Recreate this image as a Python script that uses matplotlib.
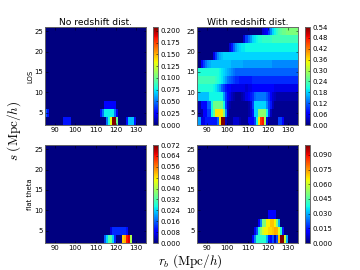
"""
plot.py

Correlation grids in s and r_b, with and without redshift distortion.
"""

import numpy as np
from matplotlib import pyplot as plt

plt.rcParams["mathtext.fontset"] = "cm"
plt.rcParams["font.size"] = 11
plt.rcParams["xtick.direction"] = "in"
plt.rcParams["ytick.direction"] = "in"
plt.rcParams["axes.linewidth"] = 1.5
plt.rcParams["axes.edgecolor"] = "0.4"

rb_edges = np.arange(85, 136, 1)
s_edges = np.arange(2, 27, 2)

# No redshift dist, LOS: (first rb column, values) per s bin from the bottom
los_nz_s2 = (9, [.03, .03, .03, .03, 0, 0, 0, 0, 0, 0, 0, 0, 0, 0, 0, 0, 0, 0, 0, 0, 0,
                 .05, .08, .13, .208, .208, .1, 0, 0, 0, 0, .03, .065, .065, .065, .03])
los_nz_s4 = (0, [.045, .03] + [0] * 25 + [.03, .05, .075, .075, .075, .075, .075, .05, .02])
los_nz_s6 = (29, [.025, .025, .025, .025, .025, .025])

# No redshift dist, flat theta
flat_nz_s2 = (29, [.016, .024, .032, .032, .024, .012, .001, .001, .001, .05, .052, .064, .066, .04])
flat_nz_s4 = (32, [.006, .012, .012, .012, .012, .012, .012, .012, .01])

# With redshift dist, LOS: full rows from the bottom
los_z_s2 = [.15, .15, .05, .05, .08, .08, .08, .08, .08, .08, .12, .36, .54, .54, .03, .01, .01, .01, .04, .04,
            .04, .02, .01, .01, .01, .06, .06, .06, .1, .2, .36, .46, .48, .3, .05, .01, .01, .01, .01, .01,
            .1, .1, .06, .01, .01, .01, .01, .01, .01, .01]
los_z_s4 = [.02, .02, .02, .06, .06, .1, .1, .2, .25, .36, .36, .36, .36, .28, .14, .03, .01, .01, .01, .01,
            .01, .01, .01, .01, .01, .02, .04, .08, .18, .18, .28, .28, .28, .28, .2, .1, .03, .01, .01, .01,
            .01, .01, .01, .01, .01, .01, .01, .01, .01, .01]
los_z_s6 = [.02, .02, .07, .07, .07, .12, .12, .2, .26, .26, .26, .26, .26, .2, .1, .04, .02, .01, .01, .01,
            .01, .01, .01, .01, .01, .02, .04, .1, .18, .18, .18, .18, .18, .18, .14, .1, .08, .03, .01, .01,
            .01, .01, .01, .01, .01, .01, .01, .01, .01, .01]
los_z_s8 = [.17, .17, .17, .17, .17, .17, .2, .2, .2, .2, .2, .2, .2, .15, .1, .07, .05, .03, .02, .01,
            .01, .01, .02, .03, .05, .06, .08, .09, .12, .13, .13, .13, .13, .13, .11, .09, .06, .04, .03, .02,
            .02, .02, .02, .02, .02, .02, .02, .02, .02, .02]
los_z_s10 = [.21, .21, .21, .21, .21, .21, .21, .21, .2, .19, .17, .15, .12, .1, .08, .06, .06, .05, .05, .05,
             .05, .05, .05, .05, .04, .05, .05, .06, .06, .06, .06, .06, .06, .06, .06, .06, .06, .06, .05, .05,
             .05, .05, .05, .05, .05, .05, .05, .05, .05, .05]
los_z_s12 = [.23, .23, .23, .23, .23, .23, .23, .23, .23, .22, .21, .2, .19, .17, .15, .13, .12, .11, .1, .09,
             .09, .08, .08, .08, .08, .08, .08, .09, .09, .09, .09, .09, .09, .09, .09, .09, .09, .09, .09, .09,
             .09, .09, .09, .09, .09, .09, .09, .09, .09, .09]
los_z_s14 = [.21, .21, .21, .21, .21, .21, .21, .21, .21, .21, .21, .2, .19, .18, .17, .16, .15, .14, .13, .12,
             .12, .12, .12, .12, .12, .12, .12, .12, .12, .12, .12, .12, .12, .12, .12, .12, .12, .12, .12, .12,
             .12, .12, .12, .12, .12, .12, .12, .12, .12, .12]
los_z_s16 = [0, 0, .06, .1, .13, .15, .16, .17, .17, .17, .17, .17, .17, .17, .17, .17, .17, .16, .16, .16,
             .16, .16, .16, .15, .15, .15, .15, .15, .15, .15, .15, .15, .15, .15, .15, .15, .15, .14, .14, .14,
             .14, .14, .14, .14, .14, .14, .14, .14, .14, .14]
los_z_s18 = [0, 0, 0, 0, 0, 0, 0, 0, .05, .1, .14, .16, .17, .18, .18, .18, .18, .18, .18, .18,
             .18, .18, .18, .18, .18, .18, .18, .18, .18, .18, .18, .18, .18, .18, .18, .18, .18, .18, .18, .18,
             .18, .18, .18, .18, .18, .18, .18, .18, .18, .18]
los_z_s20 = [0, 0, 0, 0, 0, 0, 0, 0, 0, 0, 0, 0, 0, 0, 0, 0, .04, .08, .12, .15,
             .17, .18, .19, .19, .2, .2, .2, .2, .2, .2, .2, .2, .2, .2, .2, .2, .2, .2, .2, .2,
             .2, .2, .2, .2, .2, .2, .2, .2, .2, .2]
los_z_s22 = [0, 0, 0, 0, 0, 0, 0, 0, 0, 0, 0, 0, 0, 0, 0, 0, 0, 0, 0, 0,
             0, 0, 0, .04, .1, .13, .15, .18, .19, .2, .21, .21, .22, .22, .22, .22, .22, .23, .23, .23,
             .23, .23, .23, .23, .23, .23, .23, .23, .23, .23]
los_z_s24 = [0, 0, 0, 0, 0, 0, 0, 0, 0, 0, 0, 0, 0, 0, 0, 0, 0, 0, 0, 0,
             0, 0, 0, 0, 0, 0, 0, 0, 0, 0, 0, 0, .04, .05, .06, .1, .14, .18, .2, .22,
             .24, .25, .26, .26, .27, .27, .27, .27, .27, .27]

# With redshift dist, flat theta
flat_z_s2 = (27, [.012, .025, .04, .04, .04, .04, .04, .03, .015, .012, .02, .005, .02, .07, .1, .1, .06, .03])
flat_z_s4 = (28, [.01, .02, .04, .052, .06, .065, .065, .068, .068, .07, .073, .072, .062, .04, .015])
flat_z_s6 = (30, [.01, .025, .05, .05, .065, .065, .07, .07, .065, .05, .03])
flat_z_s8 = (35, [.012, .012, .012, .012])

los_nz_max = 0.208
los_z_max = 0.54
flat_nz_max = 0.072
flat_z_max = 0.1

los_nz_ticks = [0, .025, .05, .075, .1, .125, .15, .175, .2]
los_z_ticks = [0, .06, .12, .18, .24, .3, .36, .42, .48, .54]
flat_nz_ticks = [0, .008, .016, .024, .032, .04, .048, .056, .064, .072]
flat_z_ticks = [0, .015, .03, .045, .06, .075, .09]

rb_ticks = [90, 100, 110, 120, 130]
s_ticks = [5, 10, 15, 20, 25]


def make_grid(rows):
    grid = np.zeros((12, 50))
    for i, (start, vals) in enumerate(rows):
        grid[i, start : start + len(vals)] = vals
    return grid


los_nz = make_grid([los_nz_s2, los_nz_s4, los_nz_s6])
flat_nz = make_grid([flat_nz_s2, flat_nz_s4])
flat_z = make_grid([flat_z_s2, flat_z_s4, flat_z_s6, flat_z_s8])
los_z = np.array(
    [los_z_s2, los_z_s4, los_z_s6, los_z_s8, los_z_s10, los_z_s12,
     los_z_s14, los_z_s16, los_z_s18, los_z_s20, los_z_s22, los_z_s24]
)

W, H = 360, 270
fig = plt.figure(figsize=(8, 6), dpi=45)


def px_axes(x0, y0, x1, y1):
    return fig.add_axes([x0 / W, 1 - y1 / H, (x1 - x0) / W, (y1 - y0) / H])


def panel(x0, y0, grid, vmax, ticks, fmt):
    ax = px_axes(x0, y0, x0 + 101, y0 + 98)
    im = ax.pcolormesh(rb_edges, s_edges, grid, cmap="jet", vmin=0, vmax=vmax)
    ax.set_xticks(rb_ticks)
    ax.set_yticks(s_ticks)
    ax.tick_params(top=True, right=True, length=4, pad=3, color="k")
    cax = px_axes(x0 + 108, y0, x0 + 113, y0 + 98)
    cb = fig.colorbar(im, cax=cax, ticks=ticks, format=fmt)
    cb.ax.tick_params(length=3, pad=4)
    cb.outline.set_linewidth(1.5)
    cb.outline.set_edgecolor("0.4")
    return ax


ax_a = panel(45, 27, los_nz, los_nz_max, los_nz_ticks, "%.3f")
ax_b = panel(197, 27, los_z, los_z_max, los_z_ticks, "%.2f")
ax_c = panel(45, 145, flat_nz, flat_nz_max, flat_nz_ticks, "%.3f")
ax_d = panel(197, 145, flat_z, flat_z_max, flat_z_ticks, "%.3f")

ax_a.set_title("No redshift dist.", fontsize=14.5, pad=3)
ax_b.set_title("With redshift dist.", fontsize=14.5, pad=3)
ax_a.set_ylabel("LOS", fontsize=11, labelpad=2)
ax_c.set_ylabel("flat theta", fontsize=11, labelpad=2)

fig.text(190 / W, 1 - 261 / H, r"$r_b\ (\mathrm{Mpc}/h)$", fontsize=21, ha="center", va="center")
fig.text(14 / W, 1 - 131 / H, r"$s\ (\mathrm{Mpc}/h)$", fontsize=21, ha="center", va="center", rotation=90)

fig.savefig("out.png", dpi=45)
